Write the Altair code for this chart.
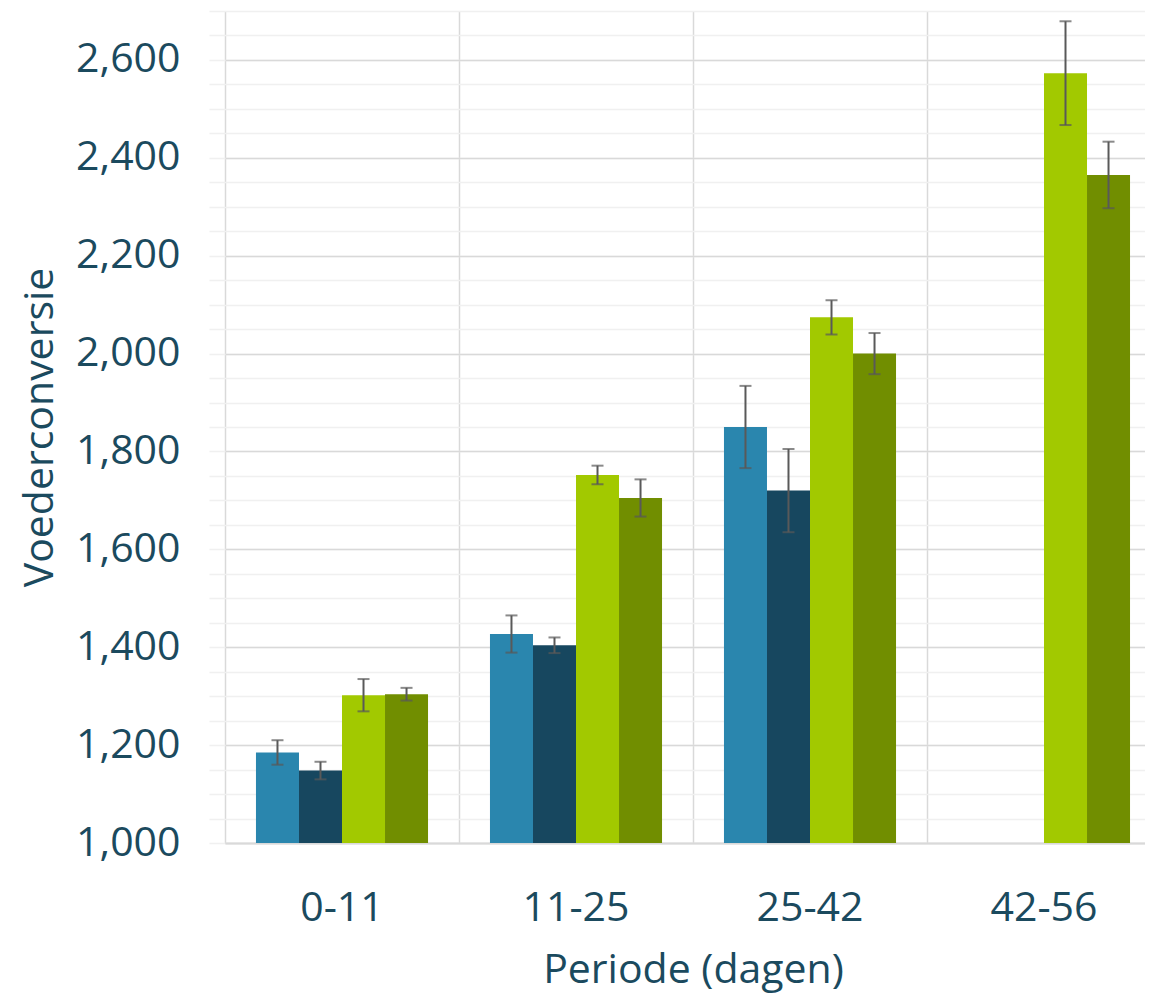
import altair as alt
import pandas as pd

periods = ["0-11", "11-25", "25-42", "42-56"]
series = ["Groep 1", "Groep 2", "Groep 3", "Groep 4"]
colors = ["#2A86AE", "#17475F", "#A2C900", "#718E00"]

s1 = [1185, 1427, 1850, None]
s2 = [1148, 1404, 1720, None]
s3 = [1302, 1752, 2074, 2573]
s4 = [1304, 1705, 2000, 2365]
e1 = [25, 38, 84, None]
e2 = [18, 16, 85, None]
e3 = [33, 19, 35, 106]
e4 = [13, 38, 42, 68]

major_ticks = [1000, 1200, 1400, 1600, 1800, 2000, 2200, 2400, 2600]
minor_ticks = list(range(1000, 2701, 50))

rows = []
for name, vals, errs in zip(series, [s1, s2, s3, s4], [e1, e2, e3, e4]):
    for p, v, e in zip(periods, vals, errs):
        if v is None:
            continue
        rows.append({"periode": p, "groep": name, "waarde": v, "lo": v - e, "hi": v + e})
df = pd.DataFrame(rows)

TXT = "#1B4A5E"
FONT = "Open Sans"

xscale = alt.Scale(domain=periods, paddingInner=0, paddingOuter=0, range=[0, 936])
xoff = alt.XOffset("groep:N", scale=alt.Scale(domain=series, paddingInner=0, paddingOuter=0.72))
yscale = alt.Scale(domain=[1000, 2700], zero=False, nice=False)

xaxis = alt.Axis(title="Periode (dagen)", labelAngle=0, ticks=False, domain=True,
                 domainColor="#D9D9D9", domainWidth=2,
                 grid=True, gridColor="#D9D9D9", gridWidth=1.5, bandPosition=0,
                 labelFontSize=41, labelFont=FONT, labelColor=TXT, labelPadding=45,
                 titleFontSize=41, titleFont=FONT, titleColor=TXT, titleFontWeight="normal",
                 titlePadding=22)
X = alt.X("periode:N", scale=xscale, sort=periods, axis=xaxis)

base = alt.Chart(df)

grid_minor = base.mark_bar(opacity=0).encode(
    x=X,
    y=alt.Y("waarde:Q", scale=yscale,
            axis=alt.Axis(values=minor_ticks, labels=False, ticks=False, domain=False,
                          grid=True, gridColor="#F0F0F0", gridWidth=1.5, title=None, orient="right")),
)

bars = base.mark_bar().encode(
    x=X,
    xOffset=xoff,
    y=alt.Y("waarde:Q", scale=yscale,
            axis=alt.Axis(values=major_ticks, labelExpr="format(datum.value, ',.0f')",
                          ticks=False, domain=False,
                          grid=True, gridColor="#D9D9D9", gridWidth=1.5,
                          title="Voederconversie", orient="left",
                          labelFontSize=41, labelFont=FONT, labelColor=TXT, labelPadding=45,
                          titleFontSize=41, titleFont=FONT, titleColor=TXT, titleFontWeight="normal",
                          titlePadding=14)),
    y2=alt.datum(1000),
    color=alt.Color("groep:N", scale=alt.Scale(domain=series, range=colors), legend=None),
)

err = base.mark_rule(color="#595959", strokeWidth=2).encode(
    x=X,
    xOffset=xoff,
    y=alt.Y("lo:Q", scale=yscale, axis=None),
    y2="hi:Q",
)

cap_lo = base.mark_tick(color="#595959", thickness=2, size=12, orient="horizontal").encode(
    x=X,
    xOffset=xoff,
    y=alt.Y("lo:Q", scale=yscale, axis=None),
)
cap_hi = base.mark_tick(color="#595959", thickness=2, size=12, orient="horizontal").encode(
    x=X,
    xOffset=xoff,
    y=alt.Y("hi:Q", scale=yscale, axis=None),
)

chart = alt.layer(grid_minor, bars, err, cap_lo, cap_hi).resolve_axis(y="independent").properties(
    width=920, height=832,
    autosize=alt.AutoSizeParams(type="none"),
    padding={"left": 217, "top": 3, "right": 0, "bottom": 152},
).configure_view(stroke=None)

chart.save("out.html", embed_options={"renderer": "svg", "actions": False})
